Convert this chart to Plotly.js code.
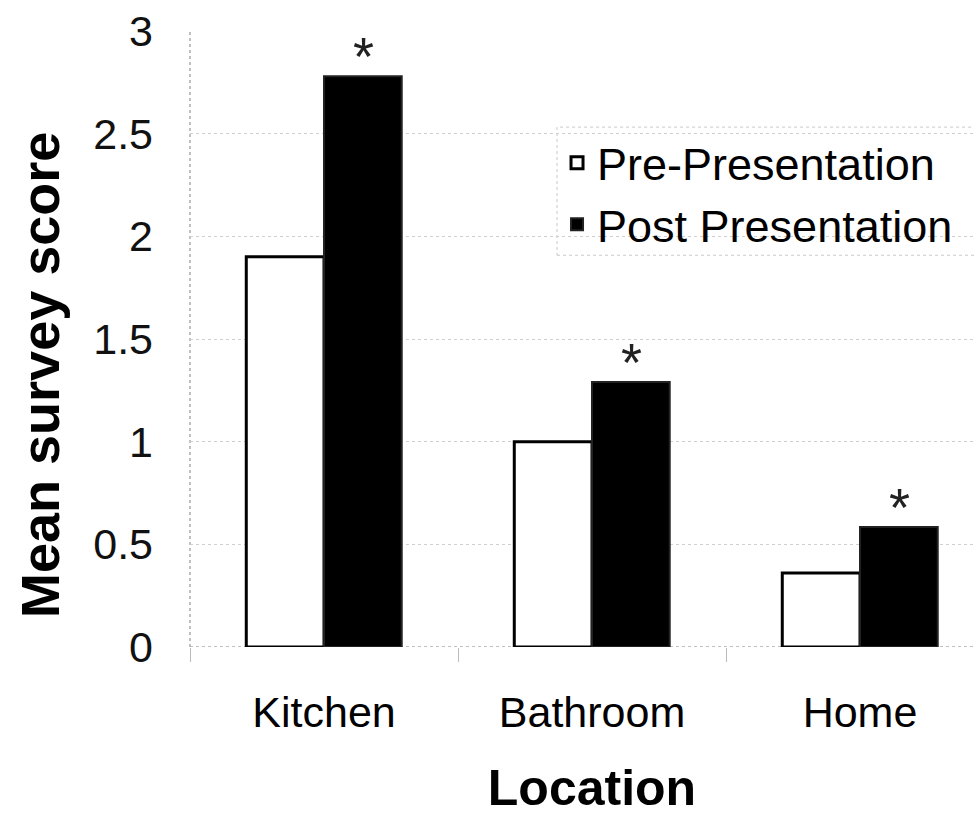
<!DOCTYPE html>
<html>
<head>
<meta charset="utf-8">
<script src="https://cdn.plot.ly/plotly-3.0.1.min.js"></script>
<style>
  html, body { margin: 0; padding: 0; background: #ffffff; overflow: hidden; }
  #chart { width: 994px; height: 816px; }
</style>
</head>
<body>
<div id="chart"></div>
<script>
// Survey scores by location, before and after the presentation
const locations = ['Kitchen', 'Bathroom', 'Home'];
const preScores = [1.9, 1.0, 0.36];
const postScores = [2.78, 1.29, 0.585];
const significance = ['*', '*', '*'];
const yTickVals = [0, 0.5, 1, 1.5, 2, 2.5, 3];
const yTickText = ['0', '0.5', '1', '1.5', '2', '2.5', '3'];

const FONT = '"Liberation Sans", Arial, Helvetica, sans-serif';

const traces = [
  {
    type: 'bar',
    name: 'Pre-Presentation',
    x: locations,
    y: preScores,
    marker: { color: '#ffffff', line: { color: '#000000', width: 3 } },
    hoverinfo: 'skip'
  },
  {
    type: 'bar',
    name: 'Post Presentation',
    x: locations,
    y: postScores,
    marker: { color: '#000000', line: { color: '#222222', width: 2 } },
    hoverinfo: 'skip'
  }
];

// significance markers sit just above each post-presentation bar
const starNotes = locations.map((loc, i) => ({
  x: loc,
  y: postScores[i],
  xref: 'x',
  yref: 'y',
  text: significance[i],
  showarrow: false,
  xanchor: 'center',
  yanchor: 'bottom',
  xshift: 39,
  yshift: -12,
  font: { family: FONT, size: 54, color: '#222222' }
}));

const yTitle = {
  xref: 'paper', yref: 'paper',
  x: -0.1866, y: 0.4416,
  xanchor: 'center', yanchor: 'middle',
  textangle: -90,
  showarrow: false,
  text: '<b>Mean survey score</b>',
  font: { family: FONT, size: 54, color: '#000000' }
};

const layout = {
  width: 994,
  height: 816,
  margin: { l: 190, r: 0, t: 31, b: 169, pad: 0 },
  paper_bgcolor: '#ffffff',
  plot_bgcolor: '#ffffff',
  font: { family: FONT, color: '#000000' },
  barmode: 'group',
  bargap: 0.42,
  bargroupgap: 0,
  showlegend: true,
  legend: {
    x: 0.4565, y: 0.844,
    xanchor: 'left', yanchor: 'top',
    bgcolor: 'rgba(255,255,255,0)',
    borderwidth: 0,
    font: { family: FONT, size: 45, color: '#000000' },
    itemwidth: 30,
    tracegroupgap: 0
  },
  xaxis: {
    type: 'category',
    categoryorder: 'array',
    categoryarray: locations,
    range: [-0.5, 2.5],
    tickson: 'boundaries',
    ticks: 'outside',
    ticklen: 14,
    tickcolor: '#bbbbbb',
    tickwidth: 1,
    showgrid: false,
    showline: false,
    zeroline: false,
    tickfont: { family: FONT, size: 43, color: '#000000' },
    ticklabelstandoff: 36,
    title: {
      text: '<b>Location</b>',
      font: { family: FONT, size: 50, color: '#000000' },
      standoff: 37
    },
    automargin: false,
    fixedrange: true
  },
  yaxis: {
    range: [0, 3],
    tickmode: 'array',
    tickvals: yTickVals,
    ticktext: yTickText,
    ticks: '',
    showgrid: true,
    gridcolor: '#d0d0d0',
    griddash: 'dot',
    gridwidth: 1,
    showline: false,
    zeroline: false,
    tickfont: { family: FONT, size: 43, color: '#111111' },
    ticklabelstandoff: 36,
    automargin: false,
    fixedrange: true
  },
  annotations: [yTitle].concat(starNotes),
  shapes: [
    // dotted value axis
    { type: 'line', xref: 'paper', yref: 'paper', x0: 0, x1: 0, y0: 0, y1: 1,
      line: { color: '#aaaaaa', width: 1.5, dash: 'dot' }, layer: 'below' },
    // dotted baseline
    { type: 'line', xref: 'paper', yref: 'y', x0: 0, x1: 1, y0: 0, y1: 0,
      line: { color: '#aaaaaa', width: 1.5, dash: 'dot' }, layer: 'below' },
    // dotted frame around the legend
    { type: 'rect', xref: 'paper', yref: 'paper', x0: 0.4565, x1: 1.0, y0: 0.636, y1: 0.844,
      line: { color: '#c8c8c8', width: 1, dash: 'dot' }, fillcolor: 'rgba(0,0,0,0)', layer: 'below' }
  ]
};

Plotly.newPlot('chart', traces, layout, { staticPlot: true, displayModeBar: false });
</script>
</body>
</html>
